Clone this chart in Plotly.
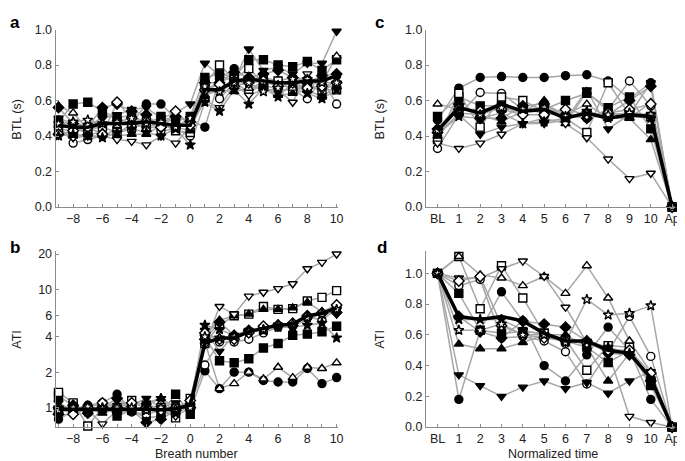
import plotly.graph_objects as go

# ---------------- data ----------------
breaths = list(range(-9, 11))
breath_ticktext = [("\u2212%d" % -b if b < 0 else str(b)) if b % 2 == 0 else "" for b in breaths]
norm_ticks = ["BL", "1", "2", "3", "4", "5", "6", "7", "8", "9", "10", "Ap"]
norm_x = list(range(12))

symbols = ["circle", "circle", "square", "square", "triangle-up", "triangle-up",
           "triangle-down", "triangle-down", "diamond", "diamond", "star", "star"]
filled = [True, False, True, False, True, False, True, False, True, False, True, False]

# panel a: BTL (s) vs breath number
btl_breath = [
    [0.49,0.44,0.42,0.52,0.50,0.47,0.58,0.58,0.50,0.49, 0.45,0.72,0.78,0.72,0.73,0.71,0.73,0.72,0.63,0.74],
    [0.46,0.36,0.38,0.40,0.44,0.43,0.50,0.43,0.44,0.40, 0.71,0.61,0.70,0.65,0.69,0.66,0.66,0.61,0.72,0.58],
    [0.48,0.58,0.59,0.54,0.50,0.52,0.47,0.51,0.48,0.51, 0.73,0.75,0.73,0.83,0.83,0.80,0.79,0.82,0.77,0.83],
    [0.44,0.43,0.44,0.45,0.42,0.46,0.45,0.47,0.43,0.42, 0.69,0.80,0.72,0.78,0.70,0.71,0.66,0.68,0.66,0.66],
    [0.42,0.40,0.41,0.42,0.40,0.41,0.41,0.46,0.45,0.43, 0.63,0.66,0.65,0.67,0.68,0.63,0.64,0.66,0.62,0.68],
    [0.57,0.53,0.44,0.47,0.46,0.48,0.44,0.46,0.52,0.47, 0.66,0.70,0.74,0.67,0.70,0.69,0.67,0.69,0.70,0.85],
    [0.50,0.47,0.46,0.50,0.52,0.55,0.56,0.50,0.53,0.58, 0.81,0.74,0.71,0.89,0.77,0.79,0.75,0.81,0.81,0.99],
    [0.44,0.39,0.40,0.40,0.38,0.37,0.35,0.40,0.36,0.45, 0.60,0.56,0.69,0.63,0.66,0.66,0.59,0.75,0.66,0.69],
    [0.56,0.47,0.45,0.56,0.58,0.54,0.52,0.45,0.51,0.48, 0.70,0.70,0.76,0.73,0.75,0.77,0.73,0.70,0.74,0.75],
    [0.41,0.43,0.45,0.41,0.59,0.50,0.48,0.45,0.54,0.46, 0.66,0.69,0.68,0.70,0.71,0.68,0.70,0.67,0.68,0.70],
    [0.40,0.41,0.40,0.39,0.42,0.44,0.42,0.40,0.44,0.35, 0.59,0.54,0.66,0.58,0.67,0.62,0.70,0.64,0.61,0.66],
    [0.47,0.48,0.49,0.47,0.48,0.50,0.47,0.48,0.45,0.50, 0.68,0.65,0.70,0.70,0.65,0.67,0.72,0.72,0.70,0.70],
]
btl_breath_mean = [0.46,0.45,0.45,0.47,0.47,0.47,0.48,0.47,0.46,0.46,
                   0.66,0.66,0.71,0.72,0.71,0.70,0.70,0.71,0.71,0.74]

# panel b: ATI vs breath number (log axis)
ati_breath = [
    [0.80,0.93,1.05,1.10,1.30,0.95,0.82,0.85,1.05,0.95, 2.05,1.45,2.00,2.00,1.70,1.65,1.65,2.15,1.60,1.80],
    [0.90,1.00,0.95,0.95,0.98,0.92,0.88,0.95,0.90,1.05, 2.30,3.60,3.60,3.80,4.30,4.80,4.90,5.90,5.50,6.90],
    [1.25,1.05,0.95,1.05,0.85,0.95,1.00,0.90,1.30,0.88, 4.00,2.50,2.40,2.60,3.20,3.50,4.10,4.20,4.40,4.90],
    [1.35,1.10,0.70,1.00,1.00,1.15,1.05,1.00,0.82,1.20, 3.50,5.00,6.00,6.20,7.20,6.80,6.90,8.00,8.60,9.80],
    [0.95,1.00,0.98,0.90,0.97,1.05,1.10,1.20,1.00,1.10, 4.20,5.50,6.00,6.20,6.80,6.80,7.00,7.80,6.50,7.40],
    [1.00,0.95,1.05,1.05,0.92,0.98,1.00,0.95,1.02,1.00, 3.60,1.45,1.60,2.00,1.75,2.20,1.80,2.20,2.15,2.40],
    [1.10,0.95,1.00,0.95,1.15,1.05,1.20,1.00,1.10,0.95, 4.50,3.00,4.10,4.50,4.80,5.00,5.00,5.50,6.30,6.20],
    [0.85,0.90,0.95,0.73,0.95,1.00,0.98,0.92,0.85,1.00, 3.40,7.20,6.20,8.80,9.50,10.2,11.2,15.0,17.0,20.0],
    [0.88,1.05,0.90,1.00,1.20,0.95,0.75,0.80,0.95,1.00, 3.80,5.30,4.10,4.50,4.70,5.00,5.00,6.00,6.30,6.40],
    [1.00,0.88,1.00,1.10,1.00,1.10,1.00,0.95,1.00,1.15, 4.30,3.80,3.80,4.30,4.90,5.00,5.20,5.90,6.30,7.40],
    [1.00,1.00,0.92,1.00,0.90,0.95,1.05,1.20,0.90,1.05, 5.00,4.60,4.10,4.50,4.50,4.80,4.80,5.00,5.20,3.90],
    [0.95,1.00,1.02,0.98,1.00,1.00,0.95,1.00,0.98,1.00, 4.00,3.90,4.00,4.40,4.60,5.00,5.10,5.80,6.20,6.80],
]
ati_breath_mean = [0.97,0.97,0.97,0.97,0.98,0.97,0.97,0.96,0.98,1.05,
                   3.5,3.9,3.9,4.4,4.7,5.0,5.1,6.0,6.3,7.0]

# panel c: BTL (s) vs normalized time
btl_norm = [
    [0.49,0.67,0.73,0.735,0.73,0.73,0.74,0.745,0.71,0.61,0.70,0.0],
    [0.33,0.52,0.645,0.64,0.55,0.53,0.52,0.50,0.55,0.71,0.57,0.0],
    [0.51,0.62,0.57,0.57,0.55,0.55,0.60,0.64,0.56,0.62,0.44,0.0],
    [0.38,0.64,0.45,0.62,0.60,0.54,0.50,0.42,0.70,0.52,0.51,0.0],
    [0.40,0.53,0.52,0.48,0.54,0.60,0.47,0.65,0.54,0.50,0.38,0.0],
    [0.58,0.55,0.55,0.56,0.53,0.57,0.52,0.58,0.50,0.50,0.59,0.0],
    [0.42,0.52,0.41,0.45,0.47,0.47,0.49,0.66,0.44,0.52,0.70,0.0],
    [0.36,0.33,0.36,0.41,0.47,0.50,0.47,0.39,0.27,0.16,0.19,0.0],
    [0.44,0.58,0.50,0.50,0.57,0.58,0.52,0.50,0.52,0.60,0.68,0.0],
    [0.42,0.55,0.54,0.55,0.52,0.52,0.55,0.52,0.53,0.55,0.58,0.0],
    [0.41,0.51,0.50,0.53,0.47,0.48,0.50,0.54,0.50,0.51,0.50,0.0],
    [0.43,0.56,0.52,0.56,0.55,0.56,0.51,0.53,0.52,0.53,0.52,0.0],
]
btl_norm_mean = [0.43,0.56,0.53,0.58,0.54,0.55,0.50,0.53,0.50,0.52,0.51,0.0]

# panel d: ATI vs normalized time
ati_norm = [
    [1.0,0.18,0.63,0.88,0.69,0.40,0.30,0.47,0.65,0.50,0.18,0.0],
    [1.0,0.92,0.96,0.58,0.59,0.56,0.49,0.28,0.49,0.72,0.46,0.0],
    [1.0,0.87,0.63,0.61,0.62,0.61,0.56,0.52,0.42,0.50,0.27,0.0],
    [1.0,1.11,0.77,1.05,0.84,0.61,0.57,0.37,0.53,0.52,0.30,0.0],
    [1.0,0.54,0.51,0.51,0.55,0.60,0.60,0.52,0.30,0.48,0.33,0.0],
    [1.0,1.11,0.99,0.97,0.92,0.98,0.87,1.05,0.84,0.56,0.36,0.0],
    [1.0,0.34,0.27,0.20,0.26,0.30,0.25,0.29,0.22,0.30,0.36,0.0],
    [1.0,0.97,0.97,1.03,1.08,0.98,0.78,0.55,0.49,0.07,0.03,0.0],
    [1.0,0.72,0.62,0.58,0.69,0.67,0.65,0.56,0.48,0.47,0.30,0.0],
    [1.0,0.95,0.98,0.66,0.60,0.58,0.56,0.55,0.50,0.50,0.35,0.0],
    [1.0,0.70,0.70,0.70,0.63,0.60,0.55,0.56,0.52,0.48,0.30,0.0],
    [1.0,0.63,0.63,0.67,0.60,0.60,0.55,0.83,0.73,0.74,0.79,0.0],
]
ati_norm_mean = [1.0,0.72,0.70,0.72,0.69,0.61,0.56,0.56,0.50,0.48,0.32,0.0]

# ---------------- figure ----------------
W, H = 685, 461
GRAY = "#a6a6a6"
AX = "#8c8c8c"
TXT = "#222222"
FONT = "Liberation Sans, Arial, Helvetica, sans-serif"

fig = go.Figure()

def add_panel(xs, series, mean, xa, ya):
    for s in series:
        fig.add_trace(go.Scatter(x=xs, y=s, mode="lines", xaxis=xa, yaxis=ya,
                                 line=dict(color=GRAY, width=1.5), showlegend=False,
                                 hoverinfo="skip", cliponaxis=False))
    for s, sym, f in zip(series, symbols, filled):
        fig.add_trace(go.Scatter(x=xs, y=s, mode="markers", xaxis=xa, yaxis=ya,
                                 marker=dict(symbol=sym, size=8 if sym != "star" else 7.5,
                                             color="black" if f else "white",
                                             line=dict(color="black", width=1.4)),
                                 showlegend=False, cliponaxis=False))
    fig.add_trace(go.Scatter(x=xs, y=mean, mode="lines", xaxis=xa, yaxis=ya,
                             line=dict(color="black", width=3.5), showlegend=False,
                             cliponaxis=False))

add_panel(breaths, btl_breath, btl_breath_mean, "x", "y")
add_panel(breaths, ati_breath, ati_breath_mean, "x2", "y2")
add_panel(norm_x, btl_norm, btl_norm_mean, "x3", "y3")
add_panel(norm_x, ati_norm, ati_norm_mean, "x4", "y4")

def px_x(a, b):
    return [a / W, b / W]

def px_y(top, bottom):
    return [1 - bottom / H, 1 - top / H]

axis_common = dict(showline=True, linecolor=AX, linewidth=1, ticks="inside",
                   ticklen=3, tickcolor=AX, tickwidth=1, showgrid=False,
                   zeroline=False, tickfont=dict(size=12.5, color=TXT, family=FONT))

lx = px_x(48, 333)
rx = px_x(421.7, 673)
ty = px_y(15, 198)
by = px_y(243, 425)

fig.update_layout(
    width=W, height=H, margin=dict(l=0, r=0, t=0, b=0),
    paper_bgcolor="white", plot_bgcolor="white",
    font=dict(family=FONT, size=12, color=TXT),
    xaxis=dict(domain=lx, anchor="y", range=[-9.2, 10.1], tickvals=breaths,
               ticktext=breath_ticktext, **axis_common),
    yaxis=dict(domain=ty, anchor="x", range=[0, 1.0], tickvals=[0, 0.2, 0.4, 0.6, 0.8, 1.0],
               tickformat=".1f", **axis_common),
    xaxis2=dict(domain=lx, anchor="y2", range=[-9.2, 10.1], tickvals=breaths,
                ticktext=breath_ticktext, **axis_common),
    yaxis2=dict(domain=by, anchor="x2", type="log", range=[-0.164, 1.33],
                tickvals=[1, 2, 4, 6, 10, 20], ticktext=["1", "2", "4", "6", "10", "20"],
                **axis_common),
    xaxis3=dict(domain=rx, anchor="y3", range=[-0.54, 11.14], tickvals=norm_x,
                ticktext=norm_ticks, **axis_common),
    yaxis3=dict(domain=ty, anchor="x3", range=[0, 1.0], tickvals=[0, 0.2, 0.4, 0.6, 0.8, 1.0],
                tickformat=".1f", **axis_common),
    xaxis4=dict(domain=rx, anchor="y4", range=[-0.54, 11.14], tickvals=norm_x,
                ticktext=norm_ticks, **axis_common),
    yaxis4=dict(domain=by, anchor="x4", range=[0, 1.148], tickvals=[0, 0.2, 0.4, 0.6, 0.8, 1.0],
                tickformat=".1f", **axis_common),
)

ann = []
for txt, x, y in [("a", 7, 8), ("b", 7, 240), ("c", 375, 8), ("d", 377, 240)]:
    ann.append(dict(text="<b>%s</b>" % txt, x=x / W, y=1 - y / H, xref="paper", yref="paper",
                    xanchor="center", yanchor="middle", showarrow=False,
                    font=dict(size=17, color="black", family=FONT)))
for txt, x, y in [("BTL (s)", 9, 107), ("ATI", 9, 334), ("BTL (s)", 375, 107), ("ATI", 375, 334)]:
    ann.append(dict(text=txt, x=x / W, y=1 - y / H, xref="paper", yref="paper",
                    xanchor="center", yanchor="middle", showarrow=False, textangle=-90,
                    font=dict(size=12.5, color=TXT, family=FONT)))
for txt, x, y in [("Breath number", 190, 453), ("Normalized time", 550, 453)]:
    ann.append(dict(text=txt, x=x / W, y=1 - y / H, xref="paper", yref="paper",
                    xanchor="center", yanchor="middle", showarrow=False,
                    font=dict(size=12.5, color=TXT, family=FONT)))
fig.update_layout(annotations=ann)

fig.write_html("out.html")
